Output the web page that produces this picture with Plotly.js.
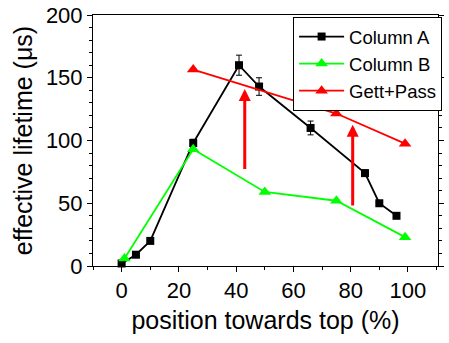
<!DOCTYPE html>
<html>
<head>
<meta charset="utf-8">
<script src="https://cdn.plot.ly/plotly-3.0.1.min.js"></script>
<style>html,body{margin:0;padding:0;background:#fff;}#chart{width:449px;height:343px;}</style>
</head>
<body>
<div id="chart"></div>
<script>
// Column A (black squares)
const colA_x = [0, 5, 10, 25, 41, 48, 66, 85, 90, 96];
const colA_y = [2, 9, 20, 98, 160, 143, 110, 74, 50, 40];
const colA_err = [0, 0, 0, 3, 8, 7, 5.5, 2.5, 0, 0];
// Column B (green triangles)
const colB_x = [1, 25, 50, 75, 99];
const colB_y = [6, 93, 59, 52, 23];
// Gett+Pass (red triangles)
const gp_x = [25, 75, 99];
const gp_y = [156.5, 121.5, 97.5];
// red arrows: x, tail y, head y
const arrow_x = [43, 80.7];
const arrow_from = [76, 47];
const arrow_to = [141, 112.5];

const FONT = 'Arial, "Liberation Sans", sans-serif';

const traces = [
  {x: colA_x, y: colA_y, name: 'Column A', mode: 'lines+markers', cliponaxis: false,
   line: {color: '#000000', width: 1.8},
   marker: {symbol: 'square', size: 8, color: '#000000'},
   error_y: {type: 'data', array: colA_err, visible: true, color: '#000000', thickness: 1, width: 3}},
  {x: colB_x, y: colB_y, name: 'Column B', mode: 'lines+markers', cliponaxis: false,
   line: {color: '#00ff00', width: 1.8},
   marker: {symbol: 'triangle-up', size: 11, color: '#00ff00'}},
  {x: gp_x, y: gp_y, name: 'Gett+Pass', mode: 'lines+markers', cliponaxis: false,
   line: {color: '#ff0000', width: 1.8},
   marker: {symbol: 'triangle-up', size: 11, color: '#ff0000'}}
];

const annotations = arrow_x.map((xv, i) => ({
  x: xv, y: arrow_to[i], ax: xv, ay: arrow_from[i],
  xref: 'x', yref: 'y', axref: 'x', ayref: 'y',
  text: '', showarrow: true, arrowhead: 2, arrowsize: 0.8, arrowwidth: 3, arrowcolor: '#ff0000'
}));

const layout = {
  width: 449, height: 343,
  margin: {l: 93, r: 11, t: 15, b: 76.5, autoexpand: false},
  paper_bgcolor: '#ffffff', plot_bgcolor: '#ffffff',
  font: {family: FONT, color: '#000000'},
  showlegend: true,
  legend: {x: 0.58, y: 0.992, xanchor: 'left', yanchor: 'top',
    bgcolor: '#ffffff', bordercolor: '#000000', borderwidth: 1,
    font: {family: FONT, size: 18.5, color: '#000000'}, itemwidth: 45, tracegroupgap: 0},
  xaxis: {range: [-10, 110.5], tick0: 0, dtick: 20, showgrid: false, zeroline: false,
    showline: true, linecolor: '#000000', linewidth: 1, mirror: true,
    ticks: 'outside', ticklen: 5, tickcolor: '#000000',
    minor: {dtick: 10, ticks: 'outside', ticklen: 3, tickcolor: '#000000', showgrid: false},
    tickfont: {family: FONT, size: 22, color: '#000000'},
    title: {text: 'position towards top (%)', font: {family: FONT, size: 25, color: '#000000'}, standoff: 9}},
  yaxis: {range: [0, 200], tick0: 0, dtick: 50, showgrid: false, zeroline: false,
    showline: true, linecolor: '#000000', linewidth: 1, mirror: 'ticks',
    ticks: 'outside', ticklen: 5, tickcolor: '#000000',
    minor: {dtick: 10, ticks: 'outside', ticklen: 3, tickcolor: '#000000', showgrid: false},
    tickfont: {family: FONT, size: 22, color: '#000000'},
    title: {text: 'effective lifetime (μs)', font: {family: FONT, size: 25, color: '#000000'}, standoff: 6}},
  annotations: annotations
};

Plotly.newPlot('chart', traces, layout, {displayModeBar: false, staticPlot: true});
</script>
</body>
</html>
